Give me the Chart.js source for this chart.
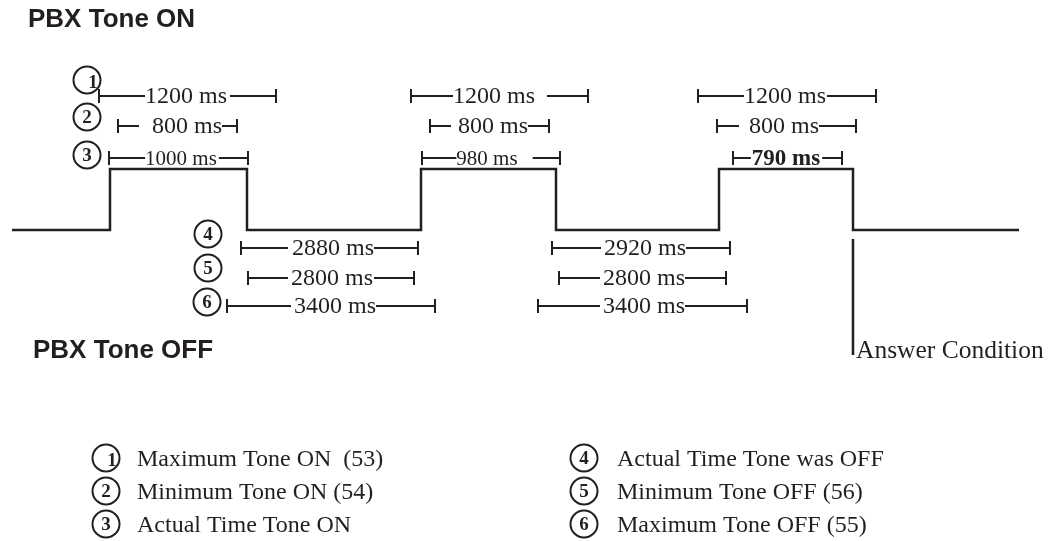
<!DOCTYPE html>
<html>
<head>
<meta charset="utf-8">
<script src="https://cdn.jsdelivr.net/npm/chart.js@4"></script>
<style>
    html, body { margin: 0; padding: 0; background: #fff; }
    #wrap { width: 1054px; height: 541px; position: relative; }
</style>
</head>
<body>
<div id="wrap"><canvas id="timing"></canvas></div>
<script>
const INK = '#231f20';
const SERIF = '"Liberation Serif", "Times New Roman", serif';
const SANS = '"Liberation Sans", Arial, sans-serif';

// tone waveform: edges along the diagram timeline, and the tone state between them
const waveEdges = [12, 110, 247, 421, 556, 719, 853, 1019];
const waveStates = ['off', 'on', 'off', 'on', 'off', 'on', 'off'];
const stateLevel = {on: 169, off: 230};

// timing rulers (row 1-3 above the wave, 4-6 below)
const intervalRows = [1, 2, 3, 1, 2, 3, 1, 2, 3, 4, 5, 6, 4, 5, 6];
const intervalStart = [99, 118, 109, 411, 430, 422, 698, 717, 733, 241, 248, 227, 552, 559, 538];
const intervalEnd = [276, 237, 248, 588, 549, 560, 876, 856, 842, 418, 414, 435, 730, 726, 747];
const intervalLabels = ['1200 ms', '800 ms', '1000 ms', '1200 ms', '800 ms', '980 ms', '1200 ms', '800 ms', '790 ms',
    '2880 ms', '2800 ms', '3400 ms', '2920 ms', '2800 ms', '3400 ms'];
const rowLevel = [96, 126, 158, 248, 278, 306];

// answer condition marker
const answerX = 853;
const answerSpan = [239, 355];

// legend
const legendNums = [1, 2, 3, 4, 5, 6];
const legendTexts = ['Maximum Tone ON  (53)', 'Minimum Tone ON (54)', 'Actual Time Tone ON',
    'Actual Time Tone was OFF', 'Minimum Tone OFF (56)', 'Maximum Tone OFF (55)'];

// layout of the texts (not data)
const labelCenters = [186, 187, 181, 494, 493, 487, 785, 784, 786, 333, 332, 335, 645, 644, 644];
const labelPadL = [0, 13, 0, 0, 7, 0, 0, 10, 1, 4, 3, 3, 3, 3, 3];
const labelPadR = [3, 0, 2, 12, 0, 15, 1, 0, 2, 0, 1, 0, 0, 0, 0];
const markerPos = [[87, 80], [87, 117], [87, 155], [208, 234], [208, 268], [207, 302]];

function wavePoints() {
    let pts = [];
    waveStates.forEach((state, i) => {
        pts.push({x: waveEdges[i], y: stateLevel[state]});
        pts.push({x: waveEdges[i + 1], y: stateLevel[state]});
    });
    return pts;
}

let datasets = [{
    data: wavePoints(),
    borderColor: INK,
    borderWidth: 2.5,
    pointRadius: 0,
    showLine: true
}, {
    data: [{x: answerX, y: answerSpan[0]}, {x: answerX, y: answerSpan[1]}],
    borderColor: INK,
    borderWidth: 2.5,
    pointRadius: 0,
    showLine: true
}];

intervalRows.forEach((row, i) => {
    datasets.push({
        data: [{x: intervalStart[i], y: rowLevel[row - 1]}, {x: intervalEnd[i], y: rowLevel[row - 1]}],
        borderColor: INK,
        borderWidth: 2,
        showLine: true,
        pointStyle: 'line',
        rotation: 90,
        pointRadius: 7,
        pointBorderWidth: 2,
        pointBorderColor: INK
    });
});

function circledNumber(ctx, num, cx, cy) {
    ctx.beginPath();
    ctx.arc(cx, cy, 13.5, 0, Math.PI * 2);
    ctx.lineWidth = 2;
    ctx.strokeStyle = INK;
    ctx.stroke();
    ctx.font = 'bold 19px ' + SERIF;
    ctx.textAlign = 'center';
    ctx.textBaseline = 'middle';
    ctx.fillStyle = INK;
    // the "1" glyph sits off-centre in the original artwork
    if (num === 1) {
        ctx.fillText('1', cx + 6, cy + 3);
    } else {
        ctx.fillText(String(num), cx, cy + 1);
    }
}

const diagramText = {
    id: 'diagramText',
    afterDatasetsDraw(chart) {
        const {ctx, scales: {x, y}} = chart;
        ctx.save();

        // ruler labels, cut into the ruler lines
        intervalLabels.forEach((label, i) => {
            let bold = label === '790 ms';
            let small = label === '1000 ms' || label === '980 ms';
            ctx.font = (bold ? 'bold 23px ' : (small ? '21px ' : '24px ')) + SERIF;
            let w = ctx.measureText(label).width;
            let cx = x.getPixelForValue(labelCenters[i]);
            let cy = y.getPixelForValue(rowLevel[intervalRows[i] - 1]);
            ctx.fillStyle = '#fff';
            ctx.fillRect(cx - w / 2 - labelPadL[i], cy - 4, w + labelPadL[i] + labelPadR[i], 8);
            ctx.fillStyle = INK;
            ctx.textAlign = 'center';
            ctx.textBaseline = 'alphabetic';
            ctx.fillText(label, cx, cy + 7);
        });

        markerPos.forEach((p, i) => {
            circledNumber(ctx, i + 1, x.getPixelForValue(p[0]), y.getPixelForValue(p[1]));
        });

        // titles
        ctx.fillStyle = INK;
        ctx.textAlign = 'left';
        ctx.textBaseline = 'alphabetic';
        ctx.font = 'bold 26px ' + SANS;
        ctx.fillText('PBX Tone ON', 28, 27);
        ctx.fillText('PBX Tone OFF', 33, 358);

        ctx.font = '25.5px ' + SERIF;
        ctx.fillText('Answer Condition', x.getPixelForValue(answerX) + 3, 358);

        // legend
        legendNums.forEach((num, i) => {
            let col = i < 3 ? 0 : 1;
            let row = i % 3;
            let cx = col === 0 ? 106 : 584;
            let cy = 458 + row * 33;
            circledNumber(ctx, num, cx, cy);
            ctx.font = '24px ' + SERIF;
            ctx.textAlign = 'left';
            ctx.textBaseline = 'alphabetic';
            ctx.fillStyle = INK;
            ctx.fillText(legendTexts[i], col === 0 ? 137 : 617, cy + 8);
        });

        ctx.restore();
    }
};

new Chart(document.getElementById('timing'), {
    type: 'scatter',
    data: {datasets: datasets},
    options: {
        responsive: true,
        maintainAspectRatio: false,
        animation: false,
        events: [],
        layout: {padding: 0, autoPadding: false},
        plugins: {
            legend: {display: false},
            tooltip: {enabled: false}
        },
        scales: {
            x: {type: 'linear', min: 0, max: 1054, display: false},
            y: {type: 'linear', min: 0, max: 541, reverse: true, display: false}
        }
    },
    plugins: [diagramText]
});
</script>
</body>
</html>
